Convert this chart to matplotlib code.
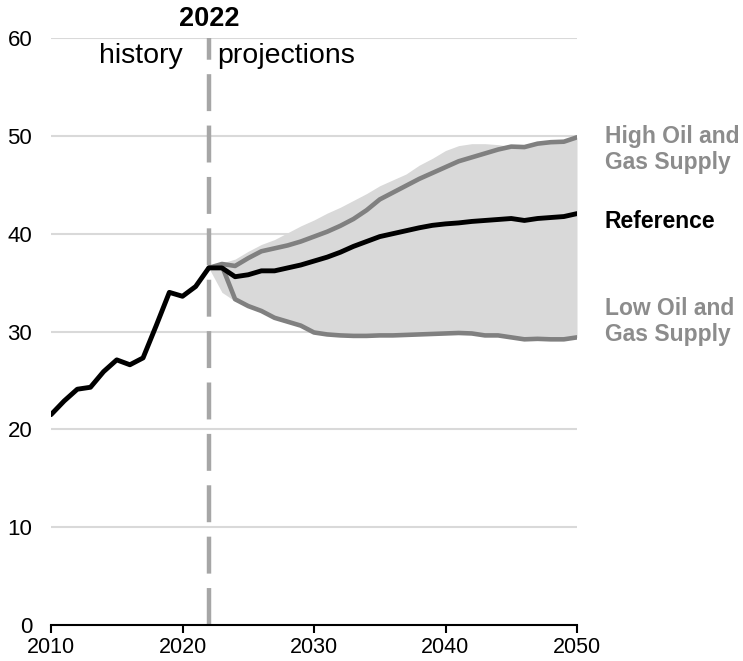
import matplotlib
matplotlib.use("Agg")
import matplotlib.pyplot as plt

plt.rcParams['font.family'] = ['Liberation Sans', 'DejaVu Sans']
plt.rcParams['lines.scale_dashes'] = False

# ---- data ----
hist_years = list(range(2010, 2023))
hist_vals = [21.5, 22.9, 24.1, 24.3, 25.9, 27.1, 26.6, 27.3, 30.6, 34.0, 33.6, 34.6, 36.5]

proj_years = list(range(2022, 2051))
reference = [36.5, 36.5, 35.6, 35.8, 36.2, 36.2, 36.5, 36.8, 37.2, 37.6, 38.1, 38.7, 39.2,
             39.7, 40.0, 40.3, 40.6, 40.85, 41.0, 41.1, 41.25, 41.35, 41.45, 41.55, 41.35,
             41.55, 41.65, 41.75, 42.05]
high_supply = [36.5, 36.9, 36.7, 37.5, 38.2, 38.5, 38.8, 39.2, 39.7, 40.2, 40.8, 41.5, 42.4,
               43.5, 44.2, 44.9, 45.6, 46.2, 46.8, 47.4, 47.8, 48.2, 48.6, 48.9, 48.85,
               49.2, 49.35, 49.4, 49.85]
low_supply = [36.5, 36.7, 33.3, 32.6, 32.1, 31.4, 31.0, 30.6, 29.9, 29.7, 29.6, 29.55, 29.55,
              29.6, 29.6, 29.65, 29.7, 29.75, 29.8, 29.85, 29.8, 29.6, 29.6, 29.4, 29.2,
              29.25, 29.2, 29.2, 29.4]
band_upper = [36.5, 37.0, 37.4, 38.2, 38.9, 39.4, 40.1, 40.8, 41.4, 42.1, 42.7, 43.4, 44.1,
              44.9, 45.5, 46.1, 47.0, 47.7, 48.5, 49.0, 49.2, 49.2, 49.1, 48.9, 48.85,
              49.2, 49.35, 49.4, 49.85]
band_lower = [36.5, 34.0, 33.1, 32.6, 32.1, 31.4, 31.0, 30.6, 29.9, 29.7, 29.6, 29.55, 29.55,
              29.6, 29.6, 29.65, 29.7, 29.75, 29.8, 29.85, 29.8, 29.6, 29.6, 29.4, 29.2,
              29.25, 29.2, 29.2, 29.4]

x_ticks = [2010, 2020, 2030, 2040, 2050]
y_ticks = [0, 10, 20, 30, 40, 50, 60]
divider_year = 2022

# ---- figure ----
W, H = 743, 661
fig = plt.figure(figsize=(W / 100, H / 100), dpi=100)
ax = fig.add_axes([51 / W, 36 / H, 526 / W, 587 / H])
ax.set_xlim(2010, 2050)
ax.set_ylim(0, 60)

for y in y_ticks[1:]:
    ax.axhline(y, color='#d9d9d9', lw=1.5, zorder=0)

ax.fill_between(proj_years, band_lower, band_upper, color='#d9d9d9', lw=0, zorder=1)

ax.plot([divider_year, divider_year], [0, 60], color='#a6a6a6', lw=3.2,
        linestyle=(0, (26.6, 10.4)), dash_capstyle='butt', zorder=2, clip_on=False)

ax.plot(proj_years, high_supply, color='#808080', lw=3.3, zorder=3, solid_capstyle='round')
ax.plot(proj_years, low_supply, color='#808080', lw=3.3, zorder=3, solid_capstyle='round')
ax.plot(hist_years + proj_years[1:], hist_vals + reference[1:], color='black', lw=3.5,
        zorder=4, solid_capstyle='round', solid_joinstyle='round')

for s in ['top', 'right', 'left']:
    ax.spines[s].set_visible(False)
ax.spines['bottom'].set_linewidth(1.5)
ax.spines['bottom'].set_zorder(5)

ax.set_xticks(x_ticks)
ax.set_xticklabels([str(t) for t in x_ticks])
ax.set_yticks(y_ticks)
ax.set_yticklabels([str(t) for t in y_ticks])
ax.tick_params(axis='x', direction='out', length=6, width=1.5, labelsize=15.5, pad=2.5)
ax.tick_params(axis='y', length=0, labelsize=16, pad=13.5)

# annotations
ax.text(divider_year, 61.2, '2022', ha='center', va='baseline', fontsize=19.5,
        fontweight='bold', clip_on=False)
ax.text(2020.05, 57.4, 'history', ha='right', va='baseline', fontsize=20.5)
ax.text(2022.65, 57.4, 'projections', ha='left', va='baseline', fontsize=20.5)

lx = 605 / W
def ftext(y_px, s, color):
    fig.text(lx, 1 - y_px / H, s, ha='left', va='baseline', fontsize=16.5,
             fontweight='bold', color=color)

ftext(143, 'High Oil and', '#8c8c8c')
ftext(169, 'Gas Supply', '#8c8c8c')
ftext(228, 'Reference', 'black')
ftext(315, 'Low Oil and', '#8c8c8c')
ftext(341, 'Gas Supply', '#8c8c8c')

fig.savefig('out.png', dpi=100)
